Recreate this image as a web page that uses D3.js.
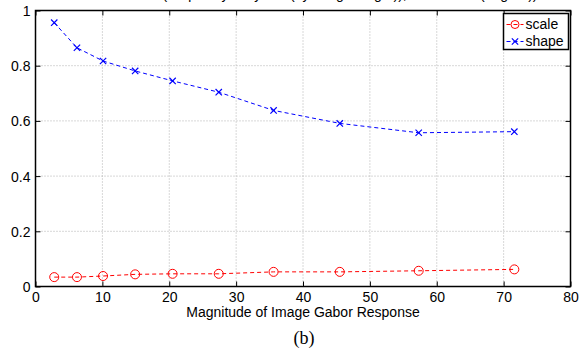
<!DOCTYPE html>
<html>
<head>
<meta charset="utf-8">
<script src="https://cdn.jsdelivr.net/npm/d3@7"></script>
<style>
  body { margin: 0; background: #fff; }
  svg { display: block; font-family: "Liberation Sans", Arial, sans-serif; }
</style>
</head>
<body>
<div id="chart"></div>
<script>
// data
const magnitude = [2.8, 6.2, 10.1, 14.9, 20.5, 27.4, 35.6, 45.5, 57.3, 71.6];
const scaleErr = [0.034, 0.034, 0.038, 0.044, 0.046, 0.046, 0.053, 0.053, 0.057, 0.062];
const shapeErr = [0.956, 0.865, 0.817, 0.781, 0.745, 0.704, 0.638, 0.591, 0.557, 0.561];
const xTicks = [0, 10, 20, 30, 40, 50, 60, 70, 80];
const yTicks = [0, 0.2, 0.4, 0.6, 0.8, 1];
const seriesNames = ["scale", "shape"];

const margin = {top: 10.5, right: 13.5, bottom: 65.5, left: 35.5};
const W = 584, H = 352;
const width = W - margin.left - margin.right;
const height = H - margin.top - margin.bottom;

const svg = d3.select("#chart").append("svg")
  .attr("width", W)
  .attr("height", H);

// title mostly above the picture, only its lowest pixels show
svg.append("text")
  .attr("x", 306)
  .attr("y", -1)
  .attr("text-anchor", "middle")
  .attr("font-size", 14)
  .text("Relative error (frequency in cycles (by image length)), orientation (degree))");

const g = svg.append("g")
  .attr("transform", "translate(" + margin.left + "," + margin.top + ")");

const x = d3.scaleLinear().domain([0, 80]).range([0, width]);
const y = d3.scaleLinear().domain([0, 1]).range([height, 0]);

// grid
g.append("g").selectAll("line")
  .data(xTicks.slice(1, -1))
  .enter().append("line")
    .attr("x1", d => x(d)).attr("x2", d => x(d))
    .attr("y1", 0).attr("y2", height)
    .attr("stroke", "#b0b0b0")
    .attr("stroke-dasharray", "1,2");
g.append("g").selectAll("line")
  .data(yTicks.slice(1, -1))
  .enter().append("line")
    .attr("y1", d => y(d)).attr("y2", d => y(d))
    .attr("x1", 0).attr("x2", width)
    .attr("stroke", "#b0b0b0")
    .attr("stroke-dasharray", "1,2");

// axes (ticks inward, matlab style)
const xAxis = g.append("g")
  .attr("transform", "translate(0," + height + ")")
  .call(d3.axisBottom(x).tickValues(xTicks).tickSize(-5).tickPadding(6).tickFormat(d3.format("d")));
const xTop = g.append("g")
  .call(d3.axisTop(x).tickValues(xTicks).tickSize(-5).tickFormat(""));
const yAxis = g.append("g")
  .call(d3.axisLeft(y).tickValues(yTicks).tickSize(-5).tickPadding(5).tickFormat(d => d === 0 || d === 1 ? d : d3.format(".1f")(d)));
const yRight = g.append("g")
  .attr("transform", "translate(" + width + ",0)")
  .call(d3.axisRight(y).tickValues(yTicks).tickSize(-5).tickFormat(""));

[xAxis, xTop, yAxis, yRight].forEach(a => {
  a.select(".domain").remove();
  a.selectAll("line").attr("stroke", "#000").attr("stroke-width", 1);
  a.selectAll("text").attr("font-size", 14).attr("fill", "#000")
    .attr("font-family", "Liberation Sans, Arial, sans-serif");
});
yAxis.selectAll("text").attr("dy", "0.35em");

g.append("rect")
  .attr("width", width).attr("height", height)
  .attr("fill", "none")
  .attr("stroke", "#000")
  .attr("stroke-width", 1.5);

// lines
const line = d3.line()
  .x(d => x(d[0]))
  .y(d => y(d[1]));

const scalePts = magnitude.map((m, i) => [m, scaleErr[i]]);
const shapePts = magnitude.map((m, i) => [m, shapeErr[i]]);

g.append("path")
  .datum(scalePts)
  .attr("d", line)
  .attr("fill", "none")
  .attr("stroke", "#ff0000")
  .attr("stroke-width", 1)
  .attr("stroke-dasharray", "4,3");

g.append("path")
  .datum(shapePts)
  .attr("d", line)
  .attr("fill", "none")
  .attr("stroke", "#0000ff")
  .attr("stroke-width", 1)
  .attr("stroke-dasharray", "4,3");

g.selectAll(".circ")
  .data(scalePts)
  .enter().append("circle")
    .attr("class", "circ")
    .attr("cx", d => x(d[0]))
    .attr("cy", d => y(d[1]))
    .attr("r", 4.5)
    .attr("fill", "none")
    .attr("stroke", "#ff0000")
    .attr("stroke-width", 1);

const cross = d3.symbol().type(d3.symbolX).size(28);
g.selectAll(".cross")
  .data(shapePts)
  .enter().append("path")
    .attr("class", "cross")
    .attr("transform", d => "translate(" + x(d[0]) + "," + y(d[1]) + ")")
    .attr("d", cross)
    .attr("fill", "none")
    .attr("stroke", "#0000ff")
    .attr("stroke-width", 1.2);

// axis title and caption
svg.append("text")
  .attr("x", margin.left + width / 2)
  .attr("y", 317)
  .attr("text-anchor", "middle")
  .attr("font-size", 14)
  .text("Magnitude of Image Gabor Response");

svg.append("text")
  .attr("x", 304)
  .attr("y", 344)
  .attr("text-anchor", "middle")
  .attr("font-size", 18)
  .attr("font-family", "Liberation Serif, Times New Roman, serif")
  .text("(b)");

// legend
const legend = svg.append("g").attr("transform", "translate(503.5,13.5)");
legend.append("rect")
  .attr("width", 65).attr("height", 36)
  .attr("fill", "#fff")
  .attr("stroke", "#000")
  .attr("stroke-width", 1.5);

const colors = ["#ff0000", "#0000ff"];
seriesNames.forEach((name, i) => {
  const yy = 11 + i * 17;
  const row = legend.append("g").attr("transform", "translate(0," + yy + ")");
  row.append("line")
    .attr("x1", 3).attr("x2", 20)
    .attr("stroke", colors[i])
    .attr("stroke-dasharray", "4,3");
  if (i === 0) {
    row.append("circle").attr("cx", 11.5).attr("r", 4)
      .attr("fill", "none").attr("stroke", colors[i]);
  } else {
    row.append("path").attr("transform", "translate(11.5,0)")
      .attr("d", cross).attr("fill", "none")
      .attr("stroke", colors[i]).attr("stroke-width", 1.2);
  }
  row.append("text")
    .attr("x", 22)
    .attr("dy", "0.35em")
    .attr("font-size", 14)
    .text(name);
});
</script>
</body>
</html>
